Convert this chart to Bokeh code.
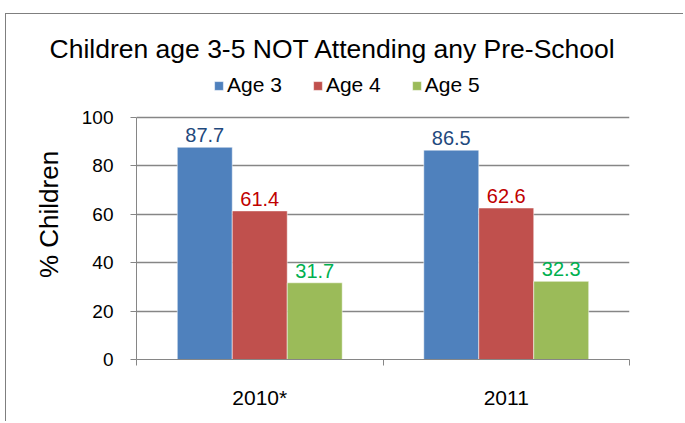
import numpy as np
from bokeh.plotting import figure
from bokeh.models import (Range1d, LinearAxis, FixedTicker, Legend,
                          LegendItem, ColumnDataSource)
from bokeh.core.properties import value
from bokeh.embed import file_html
from bokeh.resources import INLINE

# ---- data ----
years = ["2010*", "2011"]
series = ["Age 3", "Age 4", "Age 5"]
age3 = [87.7, 86.5]
age4 = [61.4, 62.6]
age5 = [31.7, 32.3]
y_ticks = [0, 20, 40, 60, 80, 100]

bar_colors = ["#4F81BD", "#C0504D", "#9BBB59"]
label_colors = ["#1F497D", "#C00000", "#00B050"]
FONT = "Liberation Sans"
GRAY = "#868686"

n = len(years)
centers = np.arange(n) + 0.5          # category centres on a 0..n axis
bounds = list(range(n + 1))           # category boundaries

w = 0.223
offsets = [-w, 0, w]
values = [age3, age4, age5]

# layout (canvas pixels)
W, H = 678, 408
FR_LEFT, FR_RIGHT, FR_TOP, FR_BOTTOM = 130, 623, 55, 345
PX_PER_100 = 242
y_end = 100 * (FR_BOTTOM - FR_TOP) / PX_PER_100

p = figure(x_range=Range1d(0, n), y_range=Range1d(0, y_end),
           width=W, height=H, output_backend="svg", toolbar_location=None,
           x_axis_location=None, min_border_left=FR_LEFT, min_border_right=W - FR_RIGHT,
           min_border_top=FR_TOP, min_border_bottom=H - FR_BOTTOM)
p.styles = {"margin-left": "6px", "margin-top": "14px",
            "box-shadow": "-1px -1px 0px 0px #7f7f7f"}
p.outline_line_color = None
p.background_fill_color = "white"
p.border_fill_color = "white"

p.title.text = "Children age 3-5 NOT Attending any Pre-School"
p.title.align = "left"
p.title.offset = -87
p.title.standoff = 12
p.title.text_font_size = "26.5px"
p.title.text_font = FONT
p.title.text_font_style = "normal"
p.title.text_color = "black"

# y axis
ya = p.yaxis[0]
ya.ticker = FixedTicker(ticks=y_ticks)
ya.bounds = (0, 100)
ya.axis_line_color = GRAY
ya.major_tick_line_color = GRAY
ya.major_tick_out = 6
ya.major_tick_in = 0
ya.minor_tick_line_color = None
ya.major_label_text_font = FONT
ya.major_label_text_font_size = "19px"
ya.major_label_text_color = "black"
ya.major_label_standoff = 17
ya.axis_label = "% Children"
ya.axis_label_text_font = FONT
ya.axis_label_text_font_size = "26px"
ya.axis_label_text_font_style = "normal"
ya.axis_label_text_color = "black"
ya.axis_label_standoff = 15

p.ygrid.ticker = FixedTicker(ticks=y_ticks)
p.ygrid.grid_line_color = GRAY
p.ygrid.grid_line_width = 1.3
p.xgrid.visible = False

# x axis: labels at category centres, tick marks at category boundaries
xa = LinearAxis(ticker=FixedTicker(ticks=list(centers), minor_ticks=bounds),
                major_label_overrides={float(c): y for c, y in zip(centers, years)})
xa.axis_line_color = GRAY
xa.major_tick_line_color = None
xa.major_tick_out = 0
xa.major_tick_in = 0
xa.minor_tick_line_color = GRAY
xa.minor_tick_out = 6
xa.minor_tick_in = 0
xa.major_label_text_font = FONT
xa.major_label_text_font_size = "21px"
xa.major_label_text_color = "black"
xa.major_label_standoff = 20
p.add_layout(xa, "below")

items = []
for i in range(3):
    src = ColumnDataSource(dict(x=centers + offsets[i], top=values[i],
                                lab=[f"{v:.1f}" for v in values[i]]))
    r = p.vbar(x="x", top="top", width=w, source=src, fill_color=bar_colors[i],
               line_color="white", line_alpha=0.5, line_width=1)
    p.text(x="x", y="top", text="lab", source=src, text_align="center",
           text_baseline="bottom", y_offset=-5, text_font=value(FONT),
           text_font_size="20px", text_color=label_colors[i])
    items.append(LegendItem(label=series[i], renderers=[r]))

legend = Legend(items=items, orientation="horizontal", location=(77, 262),
                label_text_font=FONT, label_text_font_size="21px",
                label_text_color="black",
                glyph_width=11, glyph_height=11, label_standoff=3, spacing=30,
                padding=0, margin=0, border_line_color=None,
                background_fill_alpha=0)
p.add_layout(legend, "center")

open("out.html", "w").write(file_html(p, INLINE))
